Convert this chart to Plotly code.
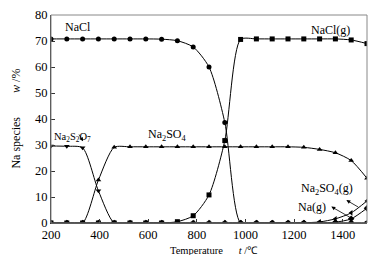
import plotly.graph_objects as go

temps = [200, 265, 330, 395, 460, 525, 590, 655, 720, 785, 850, 915, 980,
         1045, 1110, 1175, 1240, 1305, 1370, 1435, 1500]

nacl = [70.8, 70.8, 70.8, 70.8, 70.8, 70.8, 70.8, 70.7, 70.1, 67.7, 60.0, 38.7, 0.0,
        0, 0, 0, 0, 0, 0, 0, 0]
nacl_g = [0, 0, 0, 0, 0, 0, 0, 0, 0.5, 2.8, 10.8, 31.7, 70.6,
          70.8, 70.8, 70.8, 70.8, 70.8, 70.8, 70.4, 69.0]
na2so4 = [0, 0, 0, 16.5, 29.1, 29.3, 29.3, 29.3, 29.3, 29.3, 29.3, 29.3, 29.3,
          29.3, 29.3, 29.3, 29.1, 28.3, 27.0, 24.0, 17.2]
na2s2o7 = [29.6, 29.5, 28.9, 12.4, 0, 0, 0, 0, 0, 0, 0, 0, 0,
           0, 0, 0, 0, 0, 0, 0, 0]
na2so4_g = [0, 0, 0, 0, 0, 0, 0, 0, 0, 0, 0, 0, 0,
            0, 0, 0, 0.1, 0.4, 1.6, 3.9, 8.5]
na_g = [0, 0, 0, 0, 0, 0, 0, 0, 0, 0, 0, 0, 0,
        0, 0, 0, 0, 0, 0.3, 1.6, 5.7]

series = [
    ("NaCl", nacl, "circle"),
    ("NaCl(g)", nacl_g, "square"),
    ("Na2SO4", na2so4, "triangle-up"),
    ("Na2S2O7", na2s2o7, "triangle-down"),
    ("Na2SO4(g)", na2so4_g, "triangle-left"),
    ("Na(g)", na_g, "diamond"),
]

FONT = "Times New Roman, Liberation Serif, serif"
fig = go.Figure()
for name, vals, sym in series:
    fig.add_trace(go.Scatter(
        x=temps, y=vals, name=name, mode="lines+markers",
        line=dict(color="black", width=1, shape="spline", smoothing=0.7),
        marker=dict(symbol=sym, size=5, color="black"),
        showlegend=False,
    ))

labels = [
    ("NaCl", 250, 75.4, "left", 12),
    ("NaCl(g)", 1262, 74.3, "left", 12),
    ("Na<sub>2</sub>S<sub>2</sub>O<sub>7</sub>", 204, 32.8, "left", 10.5),
    ("Na<sub>2</sub>SO<sub>4</sub>", 680, 33.8, "center", 12),
    ("Na<sub>2</sub>SO<sub>4</sub>(g)", 1334, 13.0, "center", 12),
    ("Na(g)", 1274, 6.2, "center", 12),
]
for txt, x, y, al, sz in labels:
    fig.add_annotation(x=x, y=y, text=txt, showarrow=False, xanchor=al,
                       font=dict(family=FONT, size=sz, color="black"))

arrows = [
    (332, 31.4, 312, 34.6),
    (1415, 8.8, 1470, 5.8),
    (1353, 6.3, 1448, 1.2),
]
for x, y, ax, ay in arrows:
    fig.add_annotation(x=x, y=y, ax=ax, ay=ay, axref="x", ayref="y", text="",
                       showarrow=True, arrowhead=2, arrowsize=1, arrowwidth=0.8,
                       arrowcolor="black")

# axis titles
fig.add_annotation(xref="paper", yref="paper", x=0.515, y=-0.13,
                   text="Temperature &nbsp; &nbsp; &nbsp;<i>t</i> /℃", showarrow=False,
                   xanchor="center", yanchor="middle",
                   font=dict(family=FONT, size=10.5, color="black"))
fig.add_annotation(xref="paper", yref="paper", x=-0.112, y=0.5,
                   text="Na species &nbsp; &nbsp; &nbsp; &nbsp;<i>w</i> /%", showarrow=False,
                   textangle=-90, xanchor="center", yanchor="middle",
                   font=dict(family=FONT, size=12, color="black"))

fig.add_shape(type="rect", xref="paper", yref="paper", x0=0, y0=0, x1=1, y1=1,
              line=dict(color="#888", width=1))

fig.update_xaxes(range=[200, 1500], dtick=200, ticks="inside", ticklen=4,
                 tickcolor="#333", showline=True, linecolor="#333", linewidth=1,
                 showgrid=False, zeroline=False, automargin=False,
                 tickfont=dict(family=FONT, size=12.5, color="black"))
fig.update_yaxes(range=[0, 80], dtick=10, ticks="inside", ticklen=4,
                 tickcolor="#333", showline=True, linecolor="#333", linewidth=1,
                 showgrid=False, zeroline=False, automargin=False,
                 tickfont=dict(family=FONT, size=12.5, color="black"))

# page body has an 8px margin; size the figure so the plot lands where the reference has it
fig.update_layout(width=374, height=247, margin=dict(l=43, r=15, t=7, b=32),
                  plot_bgcolor="white", paper_bgcolor="white")

fig.write_html("out.html")
